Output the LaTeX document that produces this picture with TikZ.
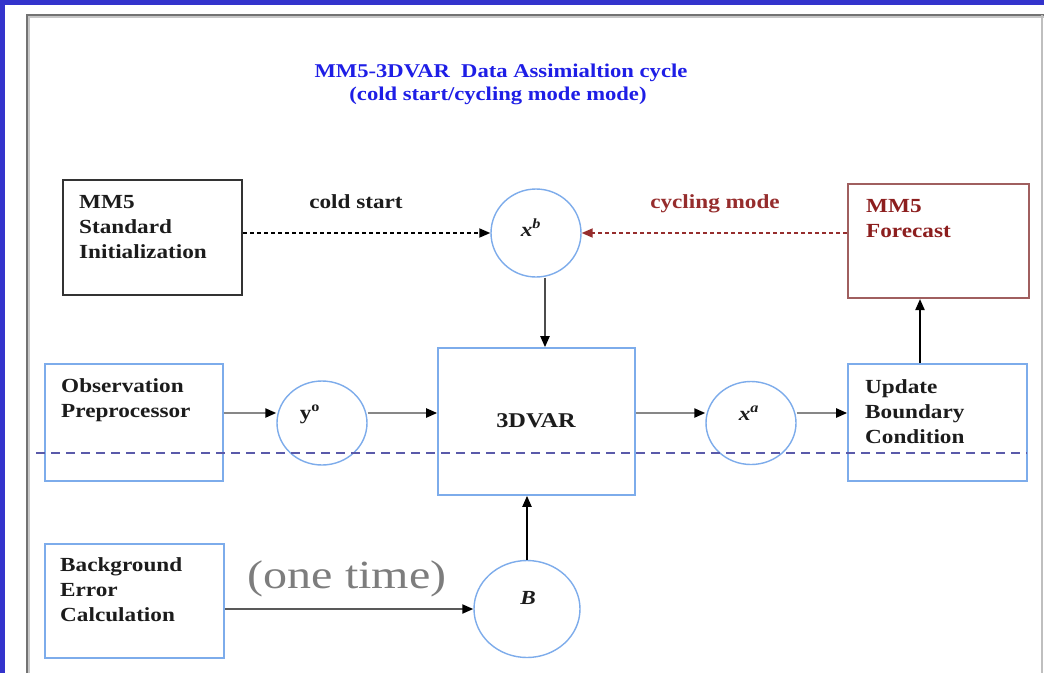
\documentclass[tikz,border=0pt]{standalone}
\usepackage{fontspec}
\setmainfont{Liberation Serif}
\newfontfamily\dfont{Liberation Serif}[FakeStretch=1.16]
\newfontfamily\ofont{Liberation Serif}[FakeStretch=1.2]
\usetikzlibrary{arrows.meta,shapes.geometric}
\definecolor{frameblue}{RGB}{51,51,204}
\definecolor{titleblue}{RGB}{30,30,230}
\definecolor{lightbox}{RGB}{125,172,235}
\definecolor{fcstred}{RGB}{160,95,95}
\definecolor{darkred}{RGB}{140,30,30}
\definecolor{cycred}{RGB}{150,45,45}
\definecolor{dashblue}{RGB}{90,90,170}
\definecolor{txtgray}{RGB}{125,125,125}
\definecolor{arrgray}{RGB}{135,135,135}
\definecolor{boxtext}{RGB}{28,28,28}
\begin{document}
\begin{tikzpicture}[x=1pt,y=-1pt,
  box/.style={draw=#1, line width=1.6pt, inner sep=0pt, rectangle},
  circ/.style={draw=lightbox, line width=1.4pt, ellipse, inner sep=0pt},
  btxt/.style={font=\dfont\bfseries\fontsize{20}{25}\selectfont, text=#1, align=left, inner sep=0pt, anchor=base west},
  btxt/.default=boxtext,
  ctxt/.style={font=\dfont\bfseries\fontsize{20}{25}\selectfont, text=boxtext, inner sep=0pt, anchor=base},
  title/.style={font=\dfont\bfseries\fontsize{19.5}{24}\selectfont, text=titleblue, inner sep=0pt, anchor=base},
  garrow/.style={draw=arrgray, line width=2.2pt, -{Triangle[length=11pt,width=9pt,color=black]}},
  karrow/.style={draw=#1, line width=2pt, -{Triangle[length=11pt,width=9pt,color=black]}},
  karrow/.default=black,
  darrow/.style={draw=#1, line width=1.8pt, dash pattern=on 4pt off 3pt, -{Triangle[length=11pt,width=9pt,color=#1]}},
]
\useasboundingbox (0,0) rectangle (1044,673);
% background and frame
\fill[white] (0,0) rectangle (1044,673);
\fill[frameblue] (0,0) rectangle (1044,5);
\fill[frameblue] (0,0) rectangle (5,673);
\draw[black!22, line width=2pt] (29,673) -- (29,17) -- (1044,17);
\draw[black!55, line width=2pt] (27,673) -- (27,15) -- (1044,15);
\draw[black!25, line width=1.5pt] (1042,15) -- (1042,673);

% title
\node[title] (t1) at (501,77) {MM5-3DVAR\ \ Data Assimialtion cycle};
\node[title] (t2) at (498,100) {(cold start/cycling mode mode)};

% boxes
\node[box=black!80, line width=2pt, minimum width=179pt, minimum height=115pt] (init) at (152.5,237.5) {};
\node[box=fcstred, line width=2pt, minimum width=181pt, minimum height=114pt] (fcst) at (938.5,241) {};
\node[box=lightbox, minimum width=178pt, minimum height=117pt] (obs) at (134,422.5) {};
\node[box=lightbox, minimum width=179pt, minimum height=117pt] (upd) at (937.5,422.5) {};
\node[box=lightbox, minimum width=197pt, minimum height=147pt] (dvar) at (536.5,421.5) {};
\node[box=lightbox, minimum width=179pt, minimum height=114pt] (bec) at (134.5,601) {};

% circles
\node[circ, minimum width=90pt, minimum height=88pt] (xb) at (536,233) {};
\node[circ, minimum width=90pt, minimum height=84pt] (yo) at (322,423) {};
\node[circ, minimum width=90pt, minimum height=83pt] (xa) at (751,423) {};
\node[circ, minimum width=106pt, minimum height=97pt] (B) at (527,609) {};

% box texts (anchor = baseline of last line)
\node[btxt] (initT) at (79,258) {MM5\\Standard\\Initialization};
\node[btxt=darkred] (fcstT) at (866,237) {MM5\\Forecast};
\node[btxt] (obsT) at (61,417) {Observation\\Preprocessor};
\node[btxt] (updT) at (865,443) {Update\\Boundary\\Condition};
\node[btxt] (becT) at (60,621) {Background\\Error\\Calculation};
\node[ctxt, font=\dfont\bfseries\fontsize{21}{25}\selectfont] (dvarT) at (536,427) {3DVAR};

% circle labels
\node[ctxt] (xbT) at (531,236) {\textit{x}\textsuperscript{\textit{b}}};
\node[ctxt] (yoT) at (310,419) {y\textsuperscript{o}};
\node[ctxt] (xaT) at (749,420) {\textit{x}\textsuperscript{\textit{a}}};
\node[ctxt] (BT) at (528,604) {\textit{B}};

% edge labels
\node[ctxt] (coldT) at (356,208) {cold start};
\node[ctxt, text=cycred] (cycT) at (715,208) {cycling mode};
\node[font=\ofont\fontsize{40}{44}\selectfont, text=txtgray, inner sep=0pt, anchor=base] (oneT) at (347,588) {(one time)};

% helper coordinates
\coordinate (toprow) at (0,233);
\coordinate (midrow) at (0,413);
\coordinate (c1) at (545,0);
\coordinate (c2) at (920,0);

% connectors
\draw[darrow=black] (init.east |- toprow) -- (xb.west |- toprow);
\draw[darrow=cycred] (fcst.west |- toprow) -- (xb.east |- toprow);
\draw[karrow=black!70] (xb.south -| c1) -- (dvar.north -| c1);
\draw[karrow] (upd.north -| c2) -- (fcst.south -| c2);
\draw[garrow] (obs.east |- midrow) -- (yo.west |- midrow);
\draw[garrow] (yo.east |- midrow) -- (dvar.west |- midrow);
\draw[garrow] (dvar.east |- midrow) -- (xa.west |- midrow);
\draw[garrow] (xa.east |- midrow) -- (upd.west |- midrow);
\draw[karrow=black!65] (bec.east |- B.west) -- (B.west);
\draw[karrow] (B.north) -- (B.north |- dvar.south);

% dashed separator
\coordinate (dl) at (36,453);
\coordinate (dr) at (1027,453);
\draw[dashblue, line width=1.5pt, dash pattern=on 9pt off 6pt] (dl) -- (dr);
\end{tikzpicture}
\end{document}
